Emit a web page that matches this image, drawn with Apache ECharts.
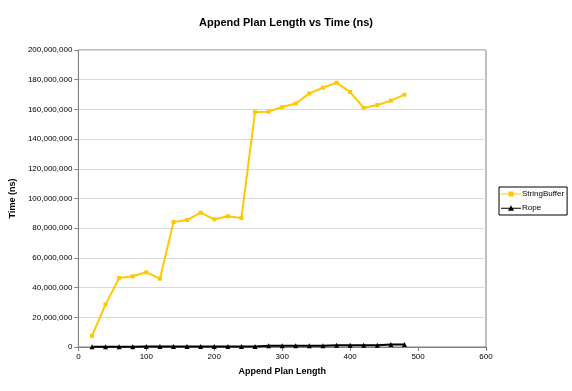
<!DOCTYPE html>
<html><head><meta charset="utf-8">
<script src="https://cdn.jsdelivr.net/npm/echarts@6/dist/echarts.min.js"></script>
<style>html,body{margin:0;padding:0;background:#fff}#c{width:572px;height:391px}</style>
</head><body><div id="c"></div>
<script>
var planLengths = [20,40,60,80,100,120,140,160,180,200,220,240,260,280,300,320,340,360,380,400,420,440,460,480];
var stringBuffer = [7.5e6,28.7e6,46.5e6,47.6e6,50.3e6,46e6,84.2e6,85.5e6,90.5e6,86e6,88e6,86.9e6,158.2e6,158.5e6,161.6e6,164e6,170.8e6,174.6e6,178e6,171.7e6,161e6,163e6,165.9e6,169.9e6];
var rope = [0.1e6,0.1e6,0.1e6,0.1e6,0.4e6,0.4e6,0.4e6,0.4e6,0.4e6,0.4e6,0.4e6,0.4e6,0.4e6,0.8e6,0.8e6,0.8e6,0.8e6,0.8e6,1.2e6,1.2e6,1.2e6,1.2e6,1.6e6,1.6e6];
var titleText = 'Append Plan Length vs Time (ns)';
var xName = 'Append Plan Length';
var yName = 'Time (ns)';

function pairs(xs, ys){ return xs.map(function(x,i){return [x, ys[i]];}); }
var ff = 'Liberation Sans, Arial, sans-serif';
var chart = echarts.init(document.getElementById('c'), null, {renderer:'canvas'});
chart.setOption({
  animation:false,
  backgroundColor:'#fff',
  title:{text:titleText, left:'center', top:12, textStyle:{fontFamily:ff, fontSize:11, fontWeight:'bold', color:'#000'}},
  legend:{
    orient:'vertical', left:499, top:187, itemWidth:20, itemHeight:6, itemGap:6,
    padding:[3,3,3,2], borderColor:'#000', borderWidth:1,
    textStyle:{fontFamily:ff, fontSize:8, color:'#000', padding:[0,0,0,-4]},
    data:[{name:'StringBuffer', icon:'path://M0,2.5H20V3.5H0Z M7.5,0.5H12.5V5.5H7.5Z'},{name:'Rope', icon:'path://M0,2.5H20V3.5H0Z M7,5.5L10,0L13,5.5Z'}]
  },
  grid:{left:77, right:86, top:50, bottom:44, show:true, borderColor:'#808080', borderWidth:1},
  xAxis:{
    type:'value', min:0, max:600, interval:100,
    name:xName, nameLocation:'middle', nameGap:20,
    nameTextStyle:{fontFamily:ff, fontSize:9, fontWeight:'bold', color:'#000'},
    axisLine:{show:true, lineStyle:{color:'#808080', width:1}},
    axisTick:{show:true, inside:false, length:4, lineStyle:{color:'#808080'}},
    axisLabel:{fontFamily:ff, fontSize:8, color:'#000', margin:6},
    splitLine:{show:false}
  },
  yAxis:{
    type:'value', min:0, max:200000000, interval:20000000,
    name:yName, nameLocation:'middle', nameGap:53, nameRotate:90,
    nameTextStyle:{fontFamily:ff, fontSize:9, fontWeight:'bold', color:'#000'},
    axisLine:{show:true, lineStyle:{color:'#808080', width:1}},
    axisTick:{show:true, inside:false, length:4, lineStyle:{color:'#808080'}},
    axisLabel:{fontFamily:ff, fontSize:8, color:'#000', margin:6, formatter:function(v){return v.toLocaleString('en-US');}},
    splitLine:{show:true, lineStyle:{color:'#d9d9d9', width:1}}
  },
  series:[
    {name:'StringBuffer', type:'line', data:pairs(planLengths, stringBuffer), symbol:'rect', symbolSize:4,
     lineStyle:{color:'#FFC800', width:2}, itemStyle:{color:'#FFC800'}},
    {name:'Rope', type:'line', data:pairs(planLengths, rope), symbol:'triangle', symbolSize:5,
     lineStyle:{color:'#000', width:2}, itemStyle:{color:'#000'}}
  ]
});
</script></body></html>
